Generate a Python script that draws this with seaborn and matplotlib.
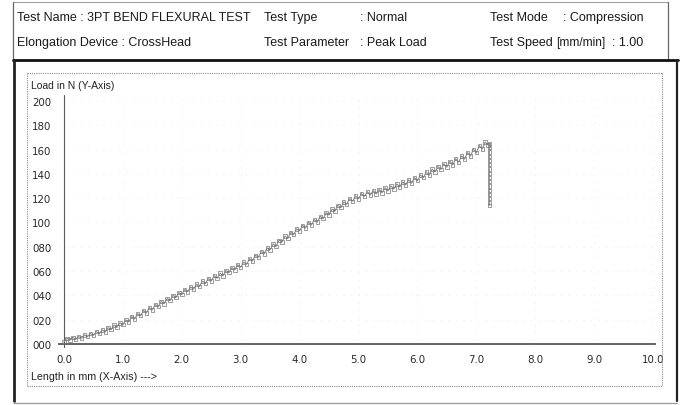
import matplotlib
matplotlib.use("Agg")
import matplotlib.pyplot as plt
from matplotlib.lines import Line2D
import seaborn as sns
import pandas as pd

# Load (N) against crosshead travel (mm), sampled every 0.05 mm up to the peak
travel_mm = [round(i * 0.05, 2) for i in range(145)]
load_n = [
    2.1, 4.6, 3.2, 5.5, 3.9, 6.1, 4.8, 7.4, 5.9, 8.6,
    7.1, 10.2, 8.4, 11.6, 9.8, 13.5, 11.7, 15.6, 13.8, 17.4,
    15.9, 19.9, 18.1, 22.6, 20.5, 24.9, 23.2, 27.6, 25.4, 29.9,
    28.1, 32.5, 30.6, 35.1, 33.0, 37.4, 35.7, 40.1, 38.2, 42.3,
    40.6, 44.8, 42.9, 47.0, 45.1, 49.2, 47.3, 51.8, 49.6, 53.9,
    51.8, 56.2, 54.0, 58.3, 56.1, 60.5, 58.6, 62.9, 61.0, 65.2,
    63.1, 67.4, 65.5, 70.1, 68.2, 73.0, 71.4, 76.1, 74.2, 79.0,
    77.5, 82.3, 80.4, 85.4, 83.8, 88.8, 86.9, 91.8, 90.0, 94.7,
    93.1, 97.6, 95.4, 100.0, 97.9, 102.4, 100.3, 105.1, 103.2, 108.1,
    106.2, 111.0, 109.3, 114.1, 112.2, 117.0, 114.9, 119.6, 117.5, 121.8,
    119.4, 123.7, 121.5, 125.3, 122.6, 126.2, 123.5, 127.3, 124.4, 128.6,
    126.0, 130.1, 127.5, 131.8, 129.2, 133.4, 130.8, 135.1, 132.4, 136.9,
    134.3, 139.1, 136.8, 141.5, 139.0, 143.9, 141.5, 146.2, 143.6, 148.3,
    145.5, 150.4, 147.4, 152.5, 149.6, 154.8, 152.1, 157.5, 154.6, 160.3,
    157.4, 163.3, 160.4, 166.1, 163.9,
]

# Specimen break: load falls off at constant travel
break_mm = 7.22
break_load_n = [165.0, 161.5, 158.0, 154.5, 151.0, 147.5, 144.0, 140.5,
                137.0, 133.5, 130.0, 126.5, 123.0, 119.5, 116.5, 114.0]

x_ticks = [0, 1, 2, 3, 4, 5, 6, 7, 8, 9, 10]
x_tick_labels = ["0.0", "1.0", "2.0", "3.0", "4.0", "5.0", "6.0", "7.0", "8.0", "9.0", "10.0"]
y_ticks = [0, 20, 40, 60, 80, 100, 120, 140, 160, 180, 200]
y_tick_labels = ["000", "020", "040", "060", "080", "100", "120", "140", "160", "180", "200"]

df = pd.DataFrame({
    "travel": travel_mm + [break_mm] * len(break_load_n),
    "load": load_n + break_load_n,
})

sns.set_theme(style="white")
plt.rcParams["font.family"] = ["Liberation Sans", "DejaVu Sans"]

W, H = 680, 406
fig = plt.figure(figsize=(W / 100, H / 100), dpi=100)
fig.patch.set_facecolor("white")


def fx(px):
    return px / W


def fy(py):
    return 1 - py / H


def hline(x0, x1, y, **kw):
    fig.add_artist(Line2D([fx(x0), fx(x1)], [fy(y), fy(y)], transform=fig.transFigure, **kw))


def vline(x, y0, y1, **kw):
    fig.add_artist(Line2D([fx(x), fx(x)], [fy(y0), fy(y1)], transform=fig.transFigure, **kw))


# Report header frame
hline(13, 668, 3, color="#a0a0a0", lw=0.8)
vline(13, 3, 62, color="#666666", lw=0.9)
vline(668, 3, 62, color="#666666", lw=0.9)
hline(13, 678, 61, color="#111111", lw=2.0)

# Chart section frame
vline(14, 62, 402, color="#222222", lw=2.0)
vline(677, 62, 402, color="#222222", lw=1.6)
hline(14, 677, 404, color="#a0a0a0", lw=1.0)

# Inner dotted frame of the chart
inner = dict(color="#8a8a8a", lw=0.8, linestyle=(0, (1, 1)))
hline(27, 662, 74, **inner)
hline(27, 662, 387, **inner)
vline(27, 74, 387, **inner)
vline(662, 74, 387, **inner)

# Header text
hdr = dict(fontsize=9.0, color="#1a1a1a", va="center", ha="left")
fig.text(fx(17), fy(18), "Test Name : 3PT BEND FLEXURAL TEST", **hdr)
fig.text(fx(264), fy(18), "Test Type", **hdr)
fig.text(fx(360), fy(18), ": Normal", **hdr)
fig.text(fx(490), fy(18), "Test Mode", **hdr)
fig.text(fx(563), fy(18), ": Compression", **hdr)
fig.text(fx(17), fy(43), "Elongation Device : CrossHead", **hdr)
fig.text(fx(264), fy(43), "Test Parameter", **hdr)
fig.text(fx(360), fy(43), ": Peak Load", **hdr)
fig.text(fx(490), fy(43), "Test Speed", **hdr)
fig.text(fx(556), fy(43), "[mm/min]", fontsize=8.6, color="#1a1a1a", va="center", ha="left")
fig.text(fx(612), fy(43), ": 1.00", **hdr)

# Plot area
xmin, xmax = -0.1, 10.05
ymin, ymax = -3, 205
left_px, right_px = 58.1, 656.0
bottom_px, top_px = 348.6, 95.9
ax = fig.add_axes([fx(left_px), fy(bottom_px), (right_px - left_px) / W, (bottom_px - top_px) / H])
ax.set_facecolor("white")
ax.set_xlim(xmin, xmax)
ax.set_ylim(ymin, ymax)
for s in ax.spines.values():
    s.set_visible(False)

ax.set_xticks(x_ticks)
ax.set_xticklabels(x_tick_labels)
ax.set_yticks(y_ticks)
ax.set_yticklabels(y_tick_labels)
ax.tick_params(axis="both", length=0, labelsize=7.4, labelcolor="#2a2a2a")
ax.tick_params(axis="x", pad=4.5)
ax.tick_params(axis="y", pad=5)
for lab in ax.get_xticklabels() + ax.get_yticklabels():
    lab.set_family("DejaVu Sans")

# Faint dotted grid
ax.grid(True, color="#e2e2e2", lw=0.6, linestyle=(0, (1, 8)))

# Axes lines
ax.axhline(0, color="#3a3a3a", lw=1.1, zorder=3)
ax.axvline(0, color="#5a5a5a", lw=0.8, zorder=3)

# Recorded trace: jagged line plus the individual sample marks
sns.lineplot(data=df, x="travel", y="load", ax=ax, sort=False, estimator=None,
             color="#8e8e8e", lw=0.8, legend=False, zorder=4)
sns.scatterplot(data=df, x="travel", y="load", ax=ax, marker="s", s=6,
                facecolor="none", edgecolor="#767676", linewidth=0.5,
                legend=False, zorder=5)
ax.set_xlabel("")
ax.set_ylabel("")

fig.text(fx(31), fy(86), "Load in N (Y-Axis)", fontsize=7.5, color="#222222", va="center", ha="left")
fig.text(fx(31), fy(377), "Length in mm (X-Axis) --->", fontsize=7.7, color="#222222", va="center", ha="left")

fig.savefig("out.png", dpi=100, facecolor="white")
